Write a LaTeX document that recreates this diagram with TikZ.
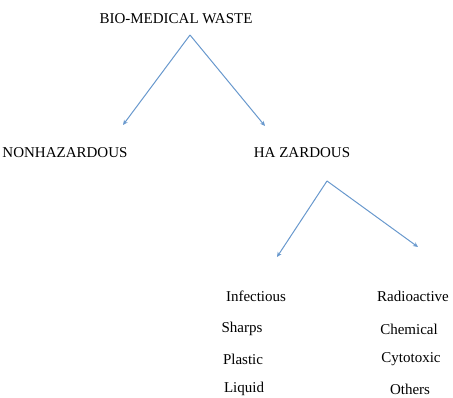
\documentclass[tikz,border=0pt]{standalone}
\usepackage{fontspec}
\setmainfont{Liberation Serif}
\usetikzlibrary{arrows.meta, positioning}
\definecolor{arrowblue}{RGB}{104,152,205}
\tikzset{every node/.style={font=\fontsize{15}{18}\selectfont, inner sep=0pt},
  link/.style={draw=arrowblue, line width=1pt, -{Stealth[length=5pt,width=4.5pt]}}}

\begin{document}
\begin{tikzpicture}[x=1pt,y=1pt,node distance=30pt]
    \useasboundingbox (0,0) rectangle (453,398);
    \node (bmw) at (176,379) {BIO-MEDICAL WASTE};
    \node (nonhaz) at (65,245) {NONHAZARDOUS};
    \node (haz) at (302,245) {HA ZARDOUS};
    \coordinate (v1) at (190,363);
    \coordinate (e1) at (123,273);
    \coordinate (e2) at (265,272);
    \coordinate (v2) at (327,217);
    \coordinate (e3) at (277,141);
    \coordinate (e4) at (418,151);
    % left list
    \node (inf) at (256,102) {Infectious};
    \node[below of=inf, xshift=-14pt, node distance=33pt] (sharps) {Sharps};
    \node[below of=sharps, xshift=1pt] (plastic) {Plastic};
    \node[below of=plastic, xshift=1pt] (liquid) {Liquid};
    % right list
    \node (radio) at (413,102) {Radioactive};
    \node[below of=radio, xshift=-4pt, node distance=33pt] (chem) {Chemical};
    \node[below of=chem, xshift=2pt] (cyto) {Cytotoxic};
    \node[below of=cyto, xshift=-1pt] (others) {Others};
    \draw[link] (v1) -- (e1);
    \draw[link] (v1) -- (e2);
    \draw[link] (v2) -- (e3);
    \draw[link] (v2) -- (e4);
\end{tikzpicture}
\end{document}
